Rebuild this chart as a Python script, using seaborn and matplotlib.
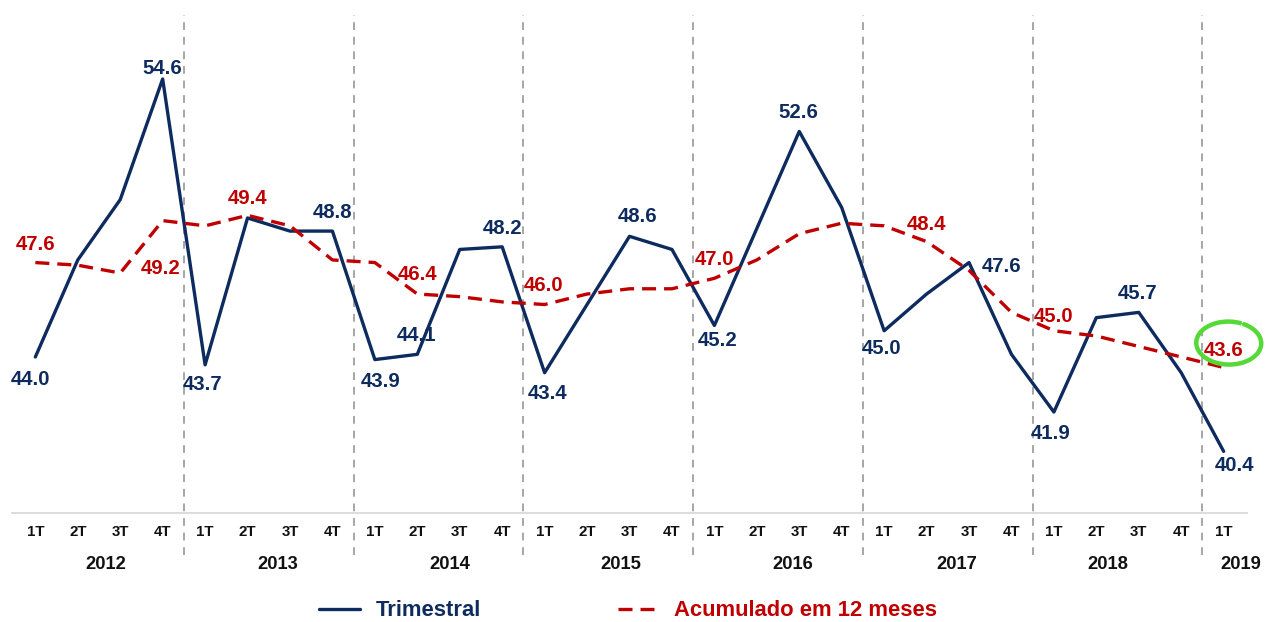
import numpy as np
import pandas as pd
import matplotlib
matplotlib.use("Agg")
import matplotlib.pyplot as plt
import matplotlib.transforms as mtransforms
from matplotlib.patches import Arc
from matplotlib.lines import Line2D
import seaborn as sns

# ---------------- data ----------------
years = ["2012", "2013", "2014", "2015", "2016", "2017", "2018", "2019"]
quarters = ["1T", "2T", "3T", "4T"] * 7 + ["1T"]
trimestral = [44.0, 47.7, 50.0, 54.6,
              43.7, 49.3, 48.8, 48.8,
              43.9, 44.1, 48.1, 48.2,
              43.4, 46.0, 48.6, 48.1,
              45.2, 48.9, 52.6, 49.7,
              45.0, 46.4, 47.6, 44.1,
              41.9, 45.5, 45.7, 43.4,
              40.4]
acumulado = [47.6, 47.5, 47.2, 49.2,
             49.0, 49.4, 49.0, 47.7,
             47.6, 46.4, 46.3, 46.1,
             46.0, 46.4, 46.6, 46.6,
             47.0, 47.7, 48.7, 49.1,
             49.0, 48.4, 47.3, 45.7,
             45.0, 44.8, 44.4, 44.0,
             43.6]
series_names = ["Trimestral", "Acumulado em 12 meses"]

# which points carry a value label
trim_labeled = [0, 3, 4, 7, 8, 9, 11, 12, 14, 16, 18, 20, 22, 24, 26, 28]
acum_labeled = [0, 3, 5, 9, 12, 16, 21, 24, 28]

# ---------------- style / layout ----------------
NAVY = "#0D2B5E"
RED = "#C00000"
GRAY = "#A6A6A6"
GREEN = "#55D936"

sns.set_style("white")
plt.rcParams["font.family"] = ["Liberation Sans", "DejaVu Sans"]
plt.rcParams["font.weight"] = "bold"

# label offsets in pixels (dx, dy of visual center, y up)
trim_off = {0: (-5, -21), 3: (0, 12), 4: (-3, -18), 7: (0, 20), 8: (6, -20),
            9: (-1, 21), 11: (0, 20), 12: (3, -19), 14: (8, 22), 16: (3, -13),
            18: (-1, 21), 20: (-3, -16), 22: (33, -2), 24: (-3, -20),
            26: (-1, 21), 28: (11, -12)}
acum_off = {0: (0, 20), 3: (-2, -46), 5: (0, 19), 9: (0, 21), 12: (-1, 21),
            16: (0, 21), 21: (0, 19), 24: (0, 16), 28: (0, 19)}
year_pos = [1.67, 5.72, 9.77, 13.8, 17.85, 21.72, 25.27, 28.4]

n = len(trimestral)
df = pd.DataFrame({
    "idx": list(range(n)) * 2,
    "valor": trimestral + acumulado,
    "serie": [series_names[0]] * n + [series_names[1]] * n,
})

fig = plt.figure(figsize=(12.65, 6.22), dpi=100)
ax = fig.add_axes([12 / 1265, 1 - 513 / 622, (1247 - 12) / 1265, (513 - 15) / 622])

sns.lineplot(data=df, x="idx", y="valor", hue="serie", style="serie",
             palette={series_names[0]: NAVY, series_names[1]: RED},
             dashes={series_names[0]: "", series_names[1]: (4.2, 2.4)},
             linewidth=2.4, ax=ax, legend=False, sort=False, zorder=3)

ax.set_xlim(-0.55, n - 1 + 0.55)
ax.set_ylim(38.05, 57.04)
ax.set_xlabel("")
ax.set_ylabel("")
ax.set_yticks([])
for s in ["top", "left", "right"]:
    ax.spines[s].set_visible(False)
ax.spines["bottom"].set_color("#D9D9D9")
ax.spines["bottom"].set_linewidth(1.3)

ax.set_xticks(range(n))
ax.set_xticklabels(quarters, fontsize=10.8, fontweight="bold", color="#111111")
ax.tick_params(axis="x", length=0, pad=8.5)

# year separators
for k in range(1, len(years)):
    ax.axvline(4 * k - 0.5, ymin=-0.084, ymax=1.0, color=GRAY, lw=1.4,
               dashes=(4, 3.5), clip_on=False, zorder=1)

# year labels
trans = mtransforms.blended_transform_factory(ax.transData, ax.transAxes)
for xp, yl in zip(year_pos, years):
    ax.text(xp, -0.1044, yl, transform=trans, ha="center", va="center",
            fontsize=13.2, fontweight="bold", color="#111111")

# value labels
FS = 14.7
CAP = 7.3  # half cap-height in px
for i in trim_labeled:
    dx, dy = trim_off[i]
    ax.annotate(f"{trimestral[i]:.1f}", (i, trimestral[i]), xytext=(dx, dy - CAP),
                textcoords="offset pixels", ha="center", va="baseline",
                fontsize=FS, fontweight="bold", color=NAVY, zorder=5)
for i in acum_labeled:
    dx, dy = acum_off[i]
    ax.annotate(f"{acumulado[i]:.1f}", (i, acumulado[i]), xytext=(dx, dy - CAP),
                textcoords="offset pixels", ha="center", va="baseline",
                fontsize=FS, fontweight="bold", color=RED, zorder=5)

# green highlight ring (hand-drawn look: open arc with a thin tail)
ring_c = (n - 1 + 0.12, 44.53)
ax.add_patch(Arc(ring_c, 1.53, 1.64, angle=6, theta1=62, theta2=420,
                 color=GREEN, lw=3.2, clip_on=False, zorder=6))
ax.add_patch(Arc(ring_c, 1.53, 1.64, angle=6, theta1=38, theta2=64,
                 color=GREEN, lw=1.2, clip_on=False, zorder=6))

# legend
handles = [Line2D([], [], color=NAVY, lw=2.4),
           Line2D([], [], color=RED, lw=2.4, dashes=(4.2, 2.4))]
fig.legend(handles, series_names, loc="center", bbox_to_anchor=(0.4965, 0.018),
           ncol=2, frameon=False, handlelength=1.85, handletextpad=0.72,
           columnspacing=6.25, borderpad=0,
           prop={"size": 15.8, "weight": "bold"})
leg = fig.legends[0]
for t, c in zip(leg.get_texts(), [NAVY, RED]):
    t.set_color(c)

fig.savefig("out.png", dpi=100)
